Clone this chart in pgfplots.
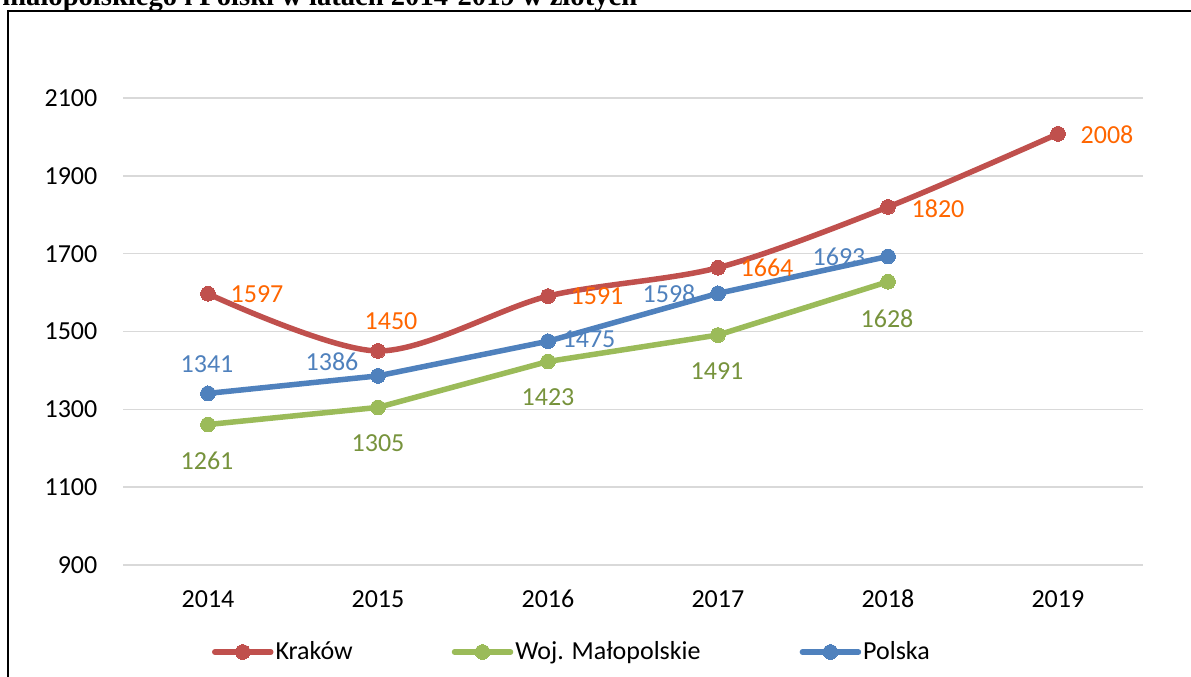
\documentclass[border=0pt]{standalone}
\usepackage{pgfplots}
\pgfplotsset{compat=1.18}
\usepackage{fontspec}
\setmainfont{Carlito}
\newfontfamily\titlefont{Liberation Serif}
\definecolor{krk}{HTML}{C0504D}
\definecolor{mal}{HTML}{9BBB59}
\definecolor{pol}{HTML}{4F81BD}
\definecolor{krklab}{HTML}{FF6600}
\definecolor{mallab}{HTML}{77933C}
\definecolor{gridc}{HTML}{D9D9D9}
\pgfplotsset{/pgf/number format/1000 sep={}, /pgf/number format/assume math mode=true}
\begin{document}
\begin{tikzpicture}
\useasboundingbox (0pt,0pt) rectangle (595.5pt,-338pt);
\clip (0pt,0pt) rectangle (595.5pt,-338pt);
\node[anchor=base west, inner sep=0pt, font=\titlefont\bfseries\fontsize{14.3}{16}\selectfont] at (1pt,-2.6pt) {małopolskiego i Polski w latach 2014-2019 w złotych};
\draw[line width=1.2pt, fill=white] (4pt,-5.6pt) rectangle (700pt,-400pt);
\begin{axis}[
  at={(61.5pt,-282.5pt)}, anchor=south west,
  scale only axis, width=510pt, height=252.95pt,
  xmin=2013.5, xmax=2019.5, ymin=900, ymax=2200,
  xtick={2014,...,2019}, ytick={900,1100,...,2100},
  axis line style={draw=none}, major tick length=0pt,
  ymajorgrids, grid style={gridc, line width=0.7pt},
  font=\fontsize{13}{15.6}\selectfont,
  yticklabel style={anchor=east, inner sep=0pt, xshift=-12.65pt},
  xticklabel style={anchor=center, inner sep=0pt, yshift=-17pt},
  clip=false,
  legend columns=3,
  legend style={at={(0.0873,-0.172)}, anchor=west, draw=none, fill=none, inner sep=0pt, outer sep=0pt,
    font=\fontsize{13}{15.6}\selectfont,
    nodes={inner sep=0pt},
    /tikz/every odd column/.append style={column sep=1pt},
    /tikz/every even column/.append style={column sep=49.5pt}},
  legend image code/.code={\draw[mark repeat=2,mark phase=2,#1] plot coordinates {(0pt,0pt) (14pt,0pt) (28pt,0pt)};},
  every axis plot/.append style={line width=2.75pt, line cap=round, line join=round},
  mark size=3.7pt,
  point meta=explicit symbolic,
  nodes near coords,
  visualization depends on={\thisrow{dx} \as \dx},
  visualization depends on={\thisrow{dy} \as \dy},
  every node near coord/.append style={anchor=center, inner sep=0pt, xshift=\dx pt, yshift=\dy pt, font=\fontsize{13}{15.6}\selectfont},
]
\addplot[krk, smooth, mark=*, mark options={fill=krk, draw=krk, line width=0pt}, every node near coord/.append style={text=krklab}]
 table[x=x, y=y, meta=y] {
x y dx dy
2014 1597 24.5 -0.3
2015 1450 6.5 14.8
2016 1591 24.5 -0.2
2017 1664 24.5 -0.2
2018 1820 25 -1
2019 2008 24.5 -0.6
};
\addlegendentry{Kraków}
\addplot[mal, mark=*, mark options={fill=mal, draw=mal, line width=0pt}, every node near coord/.append style={text=mallab}]
 table[x=x, y=y, meta=y] {
x y dx dy
2014 1261 -0.5 -18.2
2015 1305 0 -18
2016 1423 0 -17.8
2017 1491 -0.5 -18
2018 1628 -0.5 -18.5
};
\addlegendentry{Woj. Małopolskie}
\addplot[pol, mark=*, mark options={fill=pol, draw=pol, line width=0pt}, every node near coord/.append style={text=pol}]
 table[x=x, y=y, meta=y] {
x y dx dy
2014 1341 -0.5 14.7
2015 1386 -23 7.2
2016 1475 20.5 1.1
2017 1598 -24.5 -0.3
2018 1693 -24.5 0
};
\addlegendentry{Polska}
\end{axis}
\end{tikzpicture}
\end{document}
